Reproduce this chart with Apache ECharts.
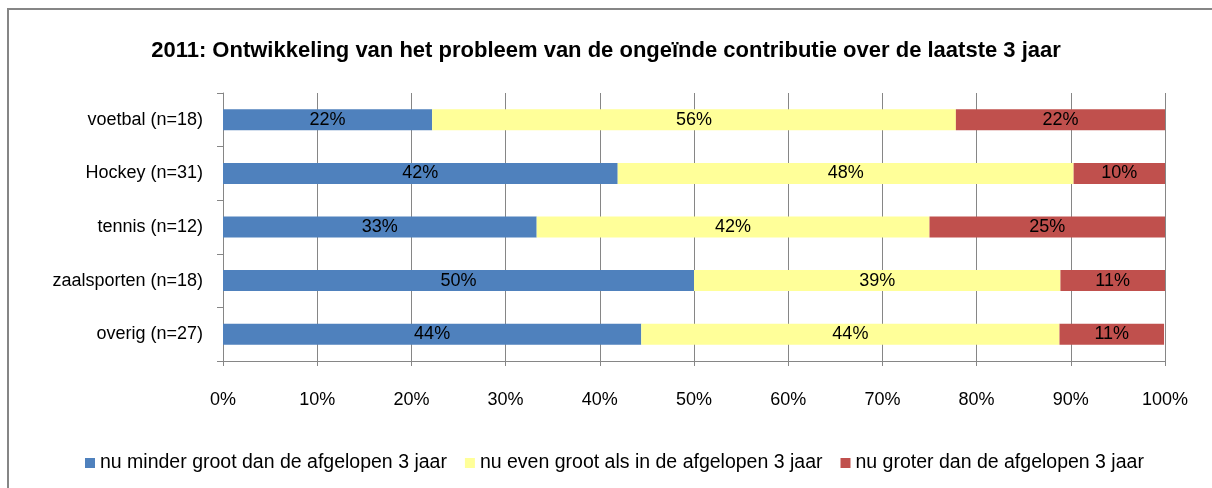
<!DOCTYPE html>
<html>
<head>
    <meta charset="UTF-8">
    <title>Ongeinde contributie 2011</title>
    <script src="https://cdn.jsdelivr.net/npm/echarts@6/dist/echarts.min.js"></script>
    <style>
        html, body { margin: 0; padding: 0; background: #fff; }
        #main { width: 1212px; height: 488px; }
    </style>
</head>
<body>
<div id="main"></div>
<script type="text/javascript">
    // sporten (van boven naar beneden)
    var sporten = ['voetbal (n=18)', 'Hockey (n=31)', 'tennis (n=12)', 'zaalsporten (n=18)', 'overig (n=27)'];
    // aandelen in %
    var minder = [22.2, 41.9, 33.3, 50.0, 44.4];
    var even = [55.6, 48.4, 41.7, 38.9, 44.4];
    var groter = [22.2, 9.7, 25.0, 11.1, 11.1];
    var reeksNamen = ['nu minder groot dan de afgelopen 3 jaar', 'nu even groot als in de afgelopen 3 jaar', 'nu groter dan de afgelopen 3 jaar'];
    var kleuren = ['#4F81BD', '#FFFF99', '#C0504D'];

    var lettertype = 'Liberation Sans';
    var grijs = '#868686';

    var myChart = echarts.init(document.getElementById('main'));

    function reeks(naam, data, kleur) {
        return {
            name: naam,
            type: 'bar',
            stack: 'totaal',
            barWidth: 21,
            data: data,
            itemStyle: { color: kleur },
            label: {
                show: true,
                position: 'inside',
                color: '#000',
                fontFamily: lettertype,
                fontSize: 18,
                formatter: function (p) { return Math.round(p.value) + '%'; }
            }
        };
    }

    myChart.setOption({
        animation: false,
        title: {
            text: '2011: Ontwikkeling van het probleem van de ongeïnde contributie over de laatste 3 jaar',
            left: 'center',
            top: 35,
            textStyle: { fontFamily: lettertype, fontWeight: 'bold', fontSize: 22, color: '#000' }
        },
        legend: {
            data: reeksNamen,
            top: 448,
            left: 80,
            icon: 'rect',
            itemWidth: 10,
            itemHeight: 10,
            itemGap: 18,
            textStyle: { fontFamily: lettertype, fontSize: 19.5, color: '#000' }
        },
        grid: { left: 223, right: 47, top: 93, bottom: 127 },
        xAxis: {
            type: 'value',
            min: 0,
            max: 100,
            interval: 10,
            axisLine: { show: true, lineStyle: { color: grijs } },
            axisTick: { show: true, length: 5, lineStyle: { color: grijs } },
            axisLabel: { formatter: '{value}%', margin: 30, color: '#000', fontFamily: lettertype, fontSize: 18 },
            splitLine: { show: true, lineStyle: { color: grijs } }
        },
        yAxis: {
            type: 'category',
            inverse: true,
            data: sporten,
            axisLine: { show: true, lineStyle: { color: grijs } },
            axisTick: { show: true, length: 6, lineStyle: { color: grijs } },
            axisLabel: { margin: 20, color: '#000', fontFamily: lettertype, fontSize: 18 }
        },
        graphic: [{
            type: 'rect',
            z: -10,
            shape: { x: 8, y: 9, width: 1300, height: 600 },
            style: { fill: 'none', stroke: grijs, lineWidth: 2 }
        }],
        series: [
            reeks(reeksNamen[0], minder, kleuren[0]),
            reeks(reeksNamen[1], even, kleuren[1]),
            reeks(reeksNamen[2], groter, kleuren[2])
        ]
    });
</script>
</body>
</html>
